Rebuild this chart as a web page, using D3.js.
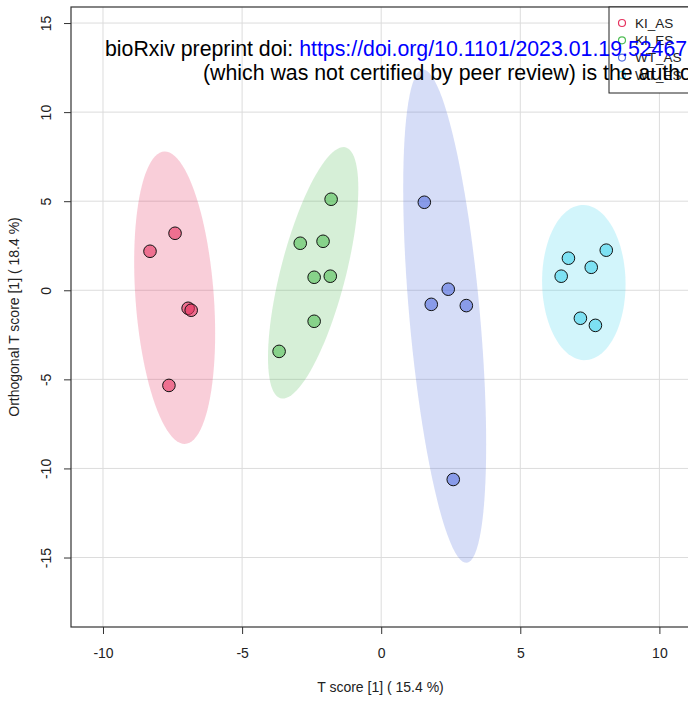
<!DOCTYPE html>
<html>
<head>
  <meta charset="utf-8">
  <title>OPLS-DA score plot</title>
  <style>
    body { margin: 0; background: #fff; }
    text { font-family: "Liberation Sans", Arial, sans-serif; }
  </style>
</head>
<body>
  <script src="https://cdn.jsdelivr.net/npm/d3@7"></script>
  <script>
    // data
    var groups = ["KI_AS", "KI_ES", "WT_AS", "WT_ES"];
    var colors = ["#e6325f", "#52be57", "#5570df", "#44d4ee"];

    var ki_as_x = [-8.31, -7.41, -6.94, -6.83, -7.63];
    var ki_as_y = [2.19, 3.20, -1.01, -1.12, -5.34];
    var ki_es_x = [-1.80, -2.91, -2.09, -2.41, -1.83, -2.41, -3.67];
    var ki_es_y = [5.11, 2.64, 2.75, 0.73, 0.79, -1.74, -3.43];
    var wt_as_x = [1.55, 2.41, 1.80, 3.06, 2.59];
    var wt_as_y = [4.94, 0.06, -0.79, -0.86, -10.62];
    var wt_es_x = [6.73, 8.09, 7.55, 6.47, 7.16, 7.70];
    var wt_es_y = [1.80, 2.25, 1.29, 0.79, -1.57, -1.97];

    var xTicks = [-10, -5, 0, 5, 10];
    var yTicks = [-15, -10, -5, 0, 5, 10, 15];

    var xTitle = "T score [1] ( 15.4 %)";
    var yTitle = "Orthogonal T score [1] ( 18.4 %)";

    var seriesX = [ki_as_x, ki_es_x, wt_as_x, wt_es_x];
    var seriesY = [ki_as_y, ki_es_y, wt_as_y, wt_es_y];

    var width = 688, height = 702;
    var margin = {top: 7, right: -2, bottom: 75, left: 71};

    var svg = d3.select("body").append("svg")
      .attr("width", width)
      .attr("height", height);

    var xScale = d3.scaleLinear().domain([-11.15, 11.1]).range([margin.left, width - margin.right]);
    var yScale = d3.scaleLinear().domain([-18.9, 15.9]).range([height - margin.bottom, margin.top]);

    var x0 = margin.left, x1 = width - margin.right;
    var y0 = margin.top, y1 = height - margin.bottom;

    // grid
    var grid = svg.append("g").attr("id", "grid");
    grid.selectAll(".gx").data(xTicks).enter().append("line")
      .attr("x1", d => xScale(d)).attr("x2", d => xScale(d))
      .attr("y1", y0).attr("y2", y1)
      .attr("stroke", "#dcdcdc").attr("stroke-width", 1);
    grid.selectAll(".gy").data(yTicks).enter().append("line")
      .attr("x1", x0).attr("x2", x1)
      .attr("y1", d => yScale(d)).attr("y2", d => yScale(d))
      .attr("stroke", "#dcdcdc").attr("stroke-width", 1);

    // 95% normal ellipses from each group's covariance
    function ellipse(xs, ys) {
      var n = xs.length;
      var mx = d3.mean(xs), my = d3.mean(ys);
      var a = 0, b = 0, c = 0;
      for (var i = 0; i < n; i++) {
        a += (xs[i] - mx) * (xs[i] - mx);
        b += (xs[i] - mx) * (ys[i] - my);
        c += (ys[i] - my) * (ys[i] - my);
      }
      a /= (n - 1); b /= (n - 1); c /= (n - 1);
      var l11 = Math.sqrt(a), l21 = b / l11, l22 = Math.sqrt(c - l21 * l21);
      var k = Math.sqrt(5.991);
      var pts = [];
      for (var t = 0; t <= 100; t++) {
        var th = t / 100 * 2 * Math.PI;
        var u = Math.cos(th), v = Math.sin(th);
        pts.push([mx + k * l11 * u, my + k * (l21 * u + l22 * v)]);
      }
      return pts;
    }

    var line = d3.line()
      .x(d => xScale(d[0]))
      .y(d => yScale(d[1]))
      .curve(d3.curveLinearClosed);

    var ell = svg.append("g").attr("id", "ellipses");
    for (let g = 0; g < groups.length; g++) {
      ell.append("path")
        .attr("d", line(ellipse(seriesX[g], seriesY[g])))
        .attr("fill", colors[g])
        .attr("fill-opacity", 0.24)
        .attr("stroke", "none");
    }

    // points
    var pts = svg.append("g").attr("id", "points");
    for (let g = 0; g < groups.length; g++) {
      pts.selectAll(".p" + g)
        .data(d3.range(seriesX[g].length))
        .enter().append("circle")
        .attr("cx", i => xScale(seriesX[g][i]))
        .attr("cy", i => yScale(seriesY[g][i]))
        .attr("r", 6.3)
        .attr("fill", colors[g])
        .attr("fill-opacity", 0.6)
        .attr("stroke", "#111")
        .attr("stroke-width", 1);
    }

    // box
    svg.append("rect")
      .attr("x", x0).attr("y", y0)
      .attr("width", x1 - x0).attr("height", y1 - y0)
      .attr("fill", "none").attr("stroke", "#333").attr("stroke-width", 1.2);

    // axes (plain hyphen minus like R)
    var fmt = d => String(d);
    var xAxis = svg.append("g")
      .attr("transform", "translate(0," + y1 + ")")
      .call(d3.axisBottom(xScale).tickValues(xTicks).tickSize(7).tickPadding(14).tickFormat(fmt));
    xAxis.select(".domain").remove();
    xAxis.selectAll("line").attr("stroke", "#333");
    xAxis.selectAll("text").style("font-size", "14px").attr("fill", "#222")
      .style("font-family", "Liberation Sans, Arial, sans-serif");

    var yAxis = svg.append("g")
      .attr("transform", "translate(" + x0 + ",0)")
      .call(d3.axisLeft(yScale).tickValues(yTicks).tickSize(7).tickFormat(fmt));
    yAxis.select(".domain").remove();
    yAxis.selectAll("line").attr("stroke", "#333");
    yAxis.selectAll("text")
      .attr("x", 0).attr("dy", 0)
      .attr("transform", "translate(-20,0) rotate(-90)")
      .attr("text-anchor", "middle")
      .style("font-size", "14px").attr("fill", "#222")
      .style("font-family", "Liberation Sans, Arial, sans-serif");

    svg.append("text")
      .attr("x", (x0 + x1) / 2).attr("y", 692)
      .attr("text-anchor", "middle")
      .style("font-size", "14px").attr("fill", "#222")
      .text(xTitle);
    svg.append("text")
      .attr("transform", "translate(19," + ((y0 + y1) / 2) + ") rotate(-90)")
      .attr("text-anchor", "middle")
      .style("font-size", "14px").attr("fill", "#222")
      .text(yTitle);

    // legend
    var legend = svg.append("g").attr("id", "legend");
    legend.append("rect")
      .attr("x", 609).attr("y", y0)
      .attr("width", 82).attr("height", 86)
      .attr("fill", "#fff").attr("stroke", "#222").attr("stroke-width", 1);
    for (let g = 0; g < groups.length; g++) {
      legend.append("circle")
        .attr("cx", 622).attr("cy", 23 + g * 17.3)
        .attr("r", 3.5)
        .attr("fill", "none").attr("stroke", colors[g]).attr("stroke-width", 1.2);
      legend.append("text")
        .attr("x", 635).attr("y", 23 + g * 17.3)
        .attr("dy", "0.35em")
        .style("font-size", "13.5px").attr("fill", "#222")
        .text(groups[g]);
    }

    // preprint stamp overlaid on the figure
    var stamp = svg.append("text")
      .attr("x", 105).attr("y", 56)
      .style("font-size", "21.3px").attr("fill", "#000");
    stamp.append("tspan").text("bioRxiv preprint doi: ");
    stamp.append("tspan").attr("fill", "#0000ff").text("https://doi.org/10.1101/2023.01.19.524677");
    svg.append("text")
      .attr("x", 203).attr("y", 80)
      .style("font-size", "21.3px").attr("fill", "#000")
      .text("(which was not certified by peer review) is the author/funder");
  </script>
</body>
</html>
